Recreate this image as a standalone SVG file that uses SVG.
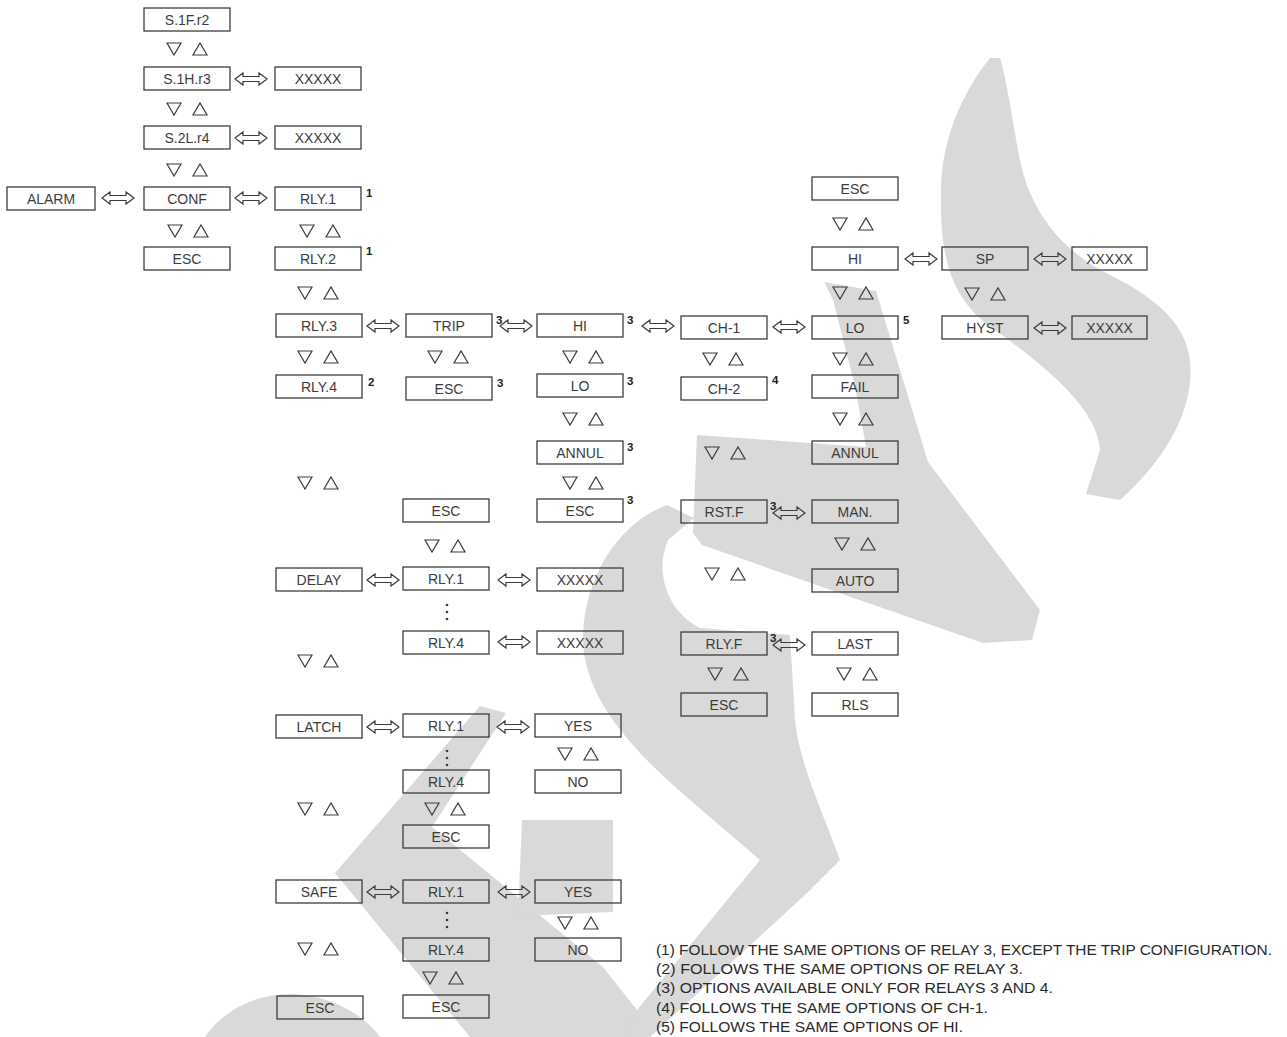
<svg xmlns="http://www.w3.org/2000/svg" width="1287" height="1037" viewBox="0 0 1287 1037">
<defs>
<style>
.w{fill:#d9d9d9}
.b{fill:none;stroke:#3c3c3c;stroke-width:1.3}
.t{font-family:"Liberation Sans",Arial,sans-serif;font-size:14px;fill:#3c3c3c;text-anchor:middle}
.s{font-family:"Liberation Sans",Arial,sans-serif;font-size:11.5px;font-weight:bold;fill:#222}
.n{font-family:"Liberation Sans",Arial,sans-serif;font-size:14.5px;fill:#2a2a2a}
.ud{fill:none;stroke:#3c3c3c;stroke-width:1.2;stroke-linejoin:miter}
.da{fill:none;stroke:#3c3c3c;stroke-width:1.2}
.dot{fill:#3c3c3c}
</style>
<path id="ud" class="ud" d="M0,0 H14 L7,12 Z M26,12 H40 L33,0 Z"/>
<path id="da" class="da" d="M0,0 L8,-6 V-2.5 H24 V-6 L32,0 L24,6 V2.5 H8 V6 Z"/>
</defs>
<rect width="1287" height="1037" fill="#fff"/>
<g id="watermark">
<path class="w" d="M990,58 C960,95 940,145 941,196 C940,255 950,300 995,330 C1048,368 1098,410 1100,450 L1086,494 L1120,500 C1165,460 1195,410 1190,360 C1185,320 1150,295 1110,275 C1060,250 1030,210 1020,160 C1012,120 1008,85 1000,58 Z"/>
<polygon class="w" points="697,435 866,447 855,386 833,300 824,282 876,291 928,462 1040,610 1032,640 983,643 702,545 693,533"/>
<path class="w" d="M667,505 C620,522 585,575 583,635 C582,690 620,740 690,800 L760,860 L637,1010 L620,1037 L650,1037 L805,895 L840,860 C820,805 800,765 795,720 L790,635 L700,628 C665,610 655,570 668,540 L694,518 Z"/>
<polygon class="w" points="480,706 506,713 432,827 603,967 637,1010 625,1037 470,1037 335,873"/>
<polygon class="w" points="522,820 613,820 613,912 518,916"/>
<path class="w" d="M205,1037 C225,1008 258,994 290,994 C325,994 362,1012 380,1037 Z"/>
</g>
<g id="connectors">
<use href="#ud" x="167" y="43"/><use href="#ud" x="167" y="103"/><use href="#ud" x="167" y="164"/><use href="#ud" x="168" y="225"/>
<use href="#ud" x="300" y="225"/><use href="#ud" x="298" y="287"/><use href="#ud" x="298" y="351"/><use href="#ud" x="428" y="351"/>
<use href="#ud" x="563" y="351"/><use href="#ud" x="563" y="413"/><use href="#ud" x="563" y="477"/><use href="#ud" x="298" y="477"/>
<use href="#ud" x="425" y="540"/><use href="#ud" x="298" y="655"/><use href="#ud" x="558" y="748"/><use href="#ud" x="298" y="803"/>
<use href="#ud" x="425" y="803"/><use href="#ud" x="558" y="917"/><use href="#ud" x="298" y="943"/><use href="#ud" x="423" y="972"/>
<use href="#ud" x="703" y="353"/><use href="#ud" x="705" y="447"/><use href="#ud" x="705" y="568"/><use href="#ud" x="708" y="668"/>
<use href="#ud" x="833" y="218"/><use href="#ud" x="833" y="287"/><use href="#ud" x="833" y="353"/><use href="#ud" x="833" y="413"/>
<use href="#ud" x="835" y="538"/><use href="#ud" x="837" y="668"/><use href="#ud" x="965" y="288"/>
<use href="#da" x="102" y="198"/><use href="#da" x="235" y="198"/><use href="#da" x="235" y="79"/><use href="#da" x="235" y="138"/>
<use href="#da" x="367" y="326"/><use href="#da" x="500" y="326"/><use href="#da" x="642" y="326"/><use href="#da" x="773" y="327"/>
<use href="#da" x="905" y="259"/><use href="#da" x="1034" y="259"/><use href="#da" x="1034" y="328"/><use href="#da" x="773" y="513"/>
<use href="#da" x="773" y="645"/><use href="#da" x="367" y="580"/><use href="#da" x="498" y="580"/><use href="#da" x="498" y="642"/>
<use href="#da" x="367" y="727"/><use href="#da" x="497" y="727"/><use href="#da" x="367" y="892"/><use href="#da" x="498" y="892"/>
<circle class="dot" cx="447" cy="605" r="1.3"/><circle class="dot" cx="447" cy="612" r="1.3"/><circle class="dot" cx="447" cy="619" r="1.3"/>
<circle class="dot" cx="447" cy="751" r="1.3"/><circle class="dot" cx="447" cy="758" r="1.3"/><circle class="dot" cx="447" cy="765" r="1.3"/>
<circle class="dot" cx="447" cy="913" r="1.3"/><circle class="dot" cx="447" cy="920" r="1.3"/><circle class="dot" cx="447" cy="927" r="1.3"/>
</g>
<g id="n-s1f"><rect class="b" x="144" y="8" width="86" height="23"/><text class="t" x="187" y="24.5">S.1F.r2</text></g>
<g id="n-s1h"><rect class="b" x="144" y="67" width="86" height="23"/><text class="t" x="187" y="83.5">S.1H.r3</text></g>
<g id="n-x1"><rect class="b" x="275" y="67" width="86" height="23"/><text class="t" x="318" y="83.5">XXXXX</text></g>
<g id="n-s2l"><rect class="b" x="144" y="126" width="86" height="23"/><text class="t" x="187" y="142.5">S.2L.r4</text></g>
<g id="n-x2"><rect class="b" x="275" y="126" width="86" height="23"/><text class="t" x="318" y="142.5">XXXXX</text></g>
<g id="n-alarm"><rect class="b" x="7" y="187" width="88" height="23"/><text class="t" x="51" y="203.5">ALARM</text></g>
<g id="n-conf"><rect class="b" x="144" y="187" width="86" height="23"/><text class="t" x="187" y="203.5">CONF</text></g>
<g id="n-rly1"><rect class="b" x="275" y="187" width="86" height="23"/><text class="t" x="318" y="203.5">RLY.1</text><text class="s" x="366" y="197">1</text></g>
<g id="n-esc1"><rect class="b" x="144" y="247" width="86" height="23"/><text class="t" x="187" y="263.5">ESC</text></g>
<g id="n-rly2"><rect class="b" x="275" y="247" width="86" height="23"/><text class="t" x="318" y="263.5">RLY.2</text><text class="s" x="366" y="255">1</text></g>
<g id="n-rly3"><rect class="b" x="276" y="314" width="86" height="23"/><text class="t" x="319" y="330.5">RLY.3</text></g>
<g id="n-rly4"><rect class="b" x="276" y="375" width="86" height="23"/><text class="t" x="319" y="391.5">RLY.4</text><text class="s" x="368" y="386">2</text></g>
<g id="n-trip"><rect class="b" x="406" y="314" width="86" height="23"/><text class="t" x="449" y="330.5">TRIP</text><text class="s" x="496" y="324">3</text></g>
<g id="n-trip-esc"><rect class="b" x="406" y="377" width="86" height="23"/><text class="t" x="449" y="393.5">ESC</text><text class="s" x="497" y="387">3</text></g>
<g id="n-hi"><rect class="b" x="537" y="314" width="86" height="23"/><text class="t" x="580" y="330.5">HI</text><text class="s" x="627" y="324">3</text></g>
<g id="n-lo"><rect class="b" x="537" y="374" width="86" height="23"/><text class="t" x="580" y="390.5">LO</text><text class="s" x="627" y="385">3</text></g>
<g id="n-annul"><rect class="b" x="537" y="441" width="86" height="23"/><text class="t" x="580" y="457.5">ANNUL</text><text class="s" x="627" y="451">3</text></g>
<g id="n-esc-h"><rect class="b" x="537" y="499" width="86" height="23"/><text class="t" x="580" y="515.5">ESC</text><text class="s" x="627" y="504">3</text></g>
<g id="n-esc-t"><rect class="b" x="403" y="499" width="86" height="23"/><text class="t" x="446" y="515.5">ESC</text></g>
<g id="n-ch1"><rect class="b" x="681" y="316" width="86" height="23"/><text class="t" x="724" y="332.5">CH-1</text></g>
<g id="n-ch2"><rect class="b" x="681" y="377" width="86" height="23"/><text class="t" x="724" y="393.5">CH-2</text><text class="s" x="772" y="384">4</text></g>
<g id="n-rstf"><rect class="b" x="681" y="500" width="86" height="23"/><text class="t" x="724" y="516.5">RST.F</text><text class="s" x="770" y="510">3</text></g>
<g id="n-rlyf"><rect class="b" x="681" y="632" width="86" height="23"/><text class="t" x="724" y="648.5">RLY.F</text><text class="s" x="770" y="642">3</text></g>
<g id="n-esc-c"><rect class="b" x="681" y="693" width="86" height="23"/><text class="t" x="724" y="709.5">ESC</text></g>
<g id="n-esc-l"><rect class="b" x="812" y="177" width="86" height="23"/><text class="t" x="855" y="193.5">ESC</text></g>
<g id="n-hi2"><rect class="b" x="812" y="247" width="86" height="23"/><text class="t" x="855" y="263.5">HI</text></g>
<g id="n-lo2"><rect class="b" x="812" y="316" width="86" height="23"/><text class="t" x="855" y="332.5">LO</text><text class="s" x="903" y="324">5</text></g>
<g id="n-fail"><rect class="b" x="812" y="375" width="86" height="23"/><text class="t" x="855" y="391.5">FAIL</text></g>
<g id="n-annul2"><rect class="b" x="812" y="441" width="86" height="23"/><text class="t" x="855" y="457.5">ANNUL</text></g>
<g id="n-man"><rect class="b" x="812" y="500" width="86" height="23"/><text class="t" x="855" y="516.5">MAN.</text></g>
<g id="n-auto"><rect class="b" x="812" y="569" width="86" height="23"/><text class="t" x="855" y="585.5">AUTO</text></g>
<g id="n-last"><rect class="b" x="812" y="632" width="86" height="23"/><text class="t" x="855" y="648.5">LAST</text></g>
<g id="n-rls"><rect class="b" x="812" y="693" width="86" height="23"/><text class="t" x="855" y="709.5">RLS</text></g>
<g id="n-sp"><rect class="b" x="942" y="247" width="86" height="23"/><text class="t" x="985" y="263.5">SP</text></g>
<g id="n-hyst"><rect class="b" x="942" y="316" width="86" height="23"/><text class="t" x="985" y="332.5">HYST</text></g>
<g id="n-x3"><rect class="b" x="1072" y="247" width="75" height="23"/><text class="t" x="1109.5" y="263.5">XXXXX</text></g>
<g id="n-x4"><rect class="b" x="1072" y="316" width="75" height="23"/><text class="t" x="1109.5" y="332.5">XXXXX</text></g>
<g id="n-delay"><rect class="b" x="276" y="568" width="86" height="23"/><text class="t" x="319" y="584.5">DELAY</text></g>
<g id="n-d-r1"><rect class="b" x="403" y="567" width="86" height="23"/><text class="t" x="446" y="583.5">RLY.1</text></g>
<g id="n-d-x1"><rect class="b" x="537" y="568" width="86" height="23"/><text class="t" x="580" y="584.5">XXXXX</text></g>
<g id="n-d-r4"><rect class="b" x="403" y="631" width="86" height="23"/><text class="t" x="446" y="647.5">RLY.4</text></g>
<g id="n-d-x4"><rect class="b" x="537" y="631" width="86" height="23"/><text class="t" x="580" y="647.5">XXXXX</text></g>
<g id="n-latch"><rect class="b" x="276" y="715" width="86" height="23"/><text class="t" x="319" y="731.5">LATCH</text></g>
<g id="n-l-r1"><rect class="b" x="403" y="714" width="86" height="23"/><text class="t" x="446" y="730.5">RLY.1</text></g>
<g id="n-l-yes"><rect class="b" x="535" y="714" width="86" height="23"/><text class="t" x="578" y="730.5">YES</text></g>
<g id="n-l-r4"><rect class="b" x="403" y="770" width="86" height="23"/><text class="t" x="446" y="786.5">RLY.4</text></g>
<g id="n-l-no"><rect class="b" x="535" y="770" width="86" height="23"/><text class="t" x="578" y="786.5">NO</text></g>
<g id="n-l-esc"><rect class="b" x="403" y="825" width="86" height="23"/><text class="t" x="446" y="841.5">ESC</text></g>
<g id="n-safe"><rect class="b" x="276" y="880" width="86" height="23"/><text class="t" x="319" y="896.5">SAFE</text></g>
<g id="n-s-r1"><rect class="b" x="403" y="880" width="86" height="23"/><text class="t" x="446" y="896.5">RLY.1</text></g>
<g id="n-s-yes"><rect class="b" x="535" y="880" width="86" height="23"/><text class="t" x="578" y="896.5">YES</text></g>
<g id="n-s-r4"><rect class="b" x="403" y="938" width="86" height="23"/><text class="t" x="446" y="954.5">RLY.4</text></g>
<g id="n-s-no"><rect class="b" x="535" y="938" width="86" height="23"/><text class="t" x="578" y="954.5">NO</text></g>
<g id="n-s-esc"><rect class="b" x="403" y="995" width="86" height="23"/><text class="t" x="446" y="1011.5">ESC</text></g>
<g id="n-esc-b"><rect class="b" x="277" y="996" width="86" height="23"/><text class="t" x="320" y="1012.5">ESC</text></g>
<g id="notes">
<text class="n" x="656" y="955" textLength="616" lengthAdjust="spacingAndGlyphs">(1) FOLLOW THE SAME OPTIONS OF RELAY 3, EXCEPT THE TRIP CONFIGURATION.</text>
<text class="n" x="656" y="974" textLength="367" lengthAdjust="spacingAndGlyphs">(2) FOLLOWS THE SAME OPTIONS OF RELAY 3.</text>
<text class="n" x="656" y="993" textLength="397" lengthAdjust="spacingAndGlyphs">(3) OPTIONS AVAILABLE ONLY FOR RELAYS 3 AND 4.</text>
<text class="n" x="656" y="1013" textLength="332" lengthAdjust="spacingAndGlyphs">(4) FOLLOWS THE SAME OPTIONS OF CH-1.</text>
<text class="n" x="656" y="1032" textLength="307" lengthAdjust="spacingAndGlyphs">(5) FOLLOWS THE SAME OPTIONS OF HI.</text>
</g>
</svg>
